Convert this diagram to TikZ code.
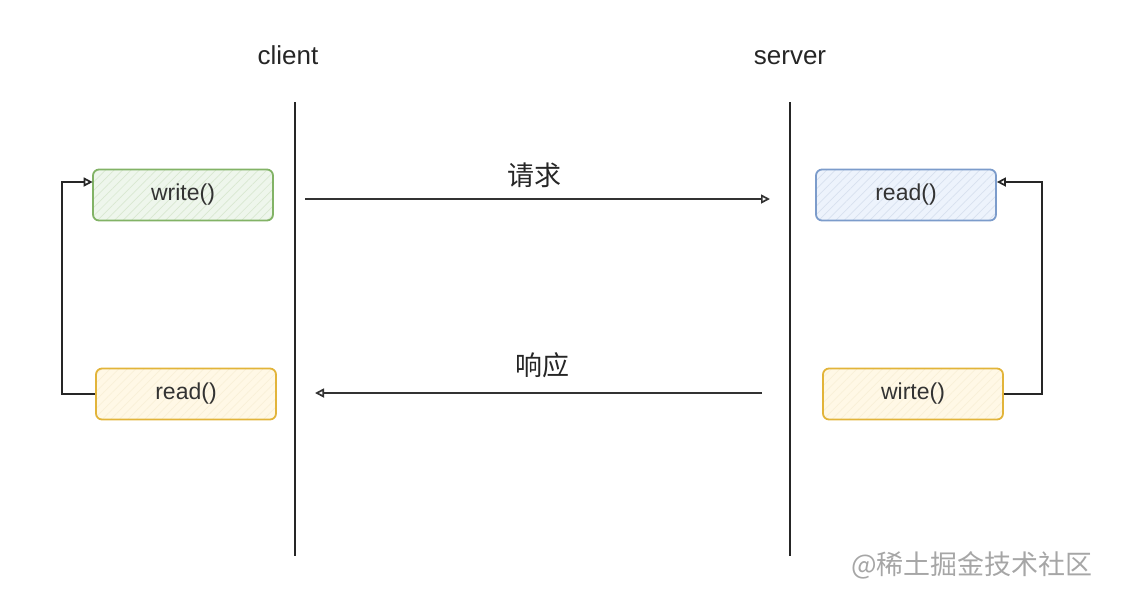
\documentclass[tikz,border=0pt]{standalone}
\usepackage{fontspec}
\setmainfont{Liberation Sans}
\newfontfamily\cjk{Noto Sans CJK SC}
\usepackage{xcolor}
\usetikzlibrary{positioning, arrows.meta, patterns.meta}
\definecolor{grnline}{HTML}{82B366}
\definecolor{grnfill}{HTML}{EEF6EC}
\definecolor{bluline}{HTML}{7C9CCB}
\definecolor{blufill}{HTML}{EDF3FC}
\definecolor{ylwline}{HTML}{E2B43A}
\definecolor{ylwfill}{HTML}{FFF8E6}

\begin{document}
\begin{tikzpicture}[
        x=1pt, y=-1pt,
        >={Triangle[open, length=9pt, width=9pt]},
        lifeline/.style={line width=2pt, draw=black!85},
        msg/.style={->, line width=1.7pt, draw=black!80},
        loop/.style={->, line width=1.7pt, draw=black!85},
        func/.style={rectangle, rounded corners=6pt, line width=1.8pt,
            minimum width=180pt, minimum height=51pt,
            font=\fontsize{23}{27}\selectfont, text=black!80},
        grnbox/.style={func, draw=grnline, preaction={fill=grnfill},
            pattern={Lines[angle=45, distance=6pt, line width=0.7pt]}, pattern color=grnline!30},
        blubox/.style={func, draw=bluline, preaction={fill=blufill},
            pattern={Lines[angle=45, distance=6pt, line width=0.7pt]}, pattern color=bluline!30},
        ylwbox/.style={func, draw=ylwline, preaction={fill=ylwfill},
            pattern={Lines[angle=45, distance=6pt, line width=0.7pt]}, pattern color=ylwline!20},
        title/.style={font=\fontsize{26}{30}\selectfont, text=black!85, anchor=base}
    ]
        \useasboundingbox (0,0) rectangle (1145,598);

        % lifelines
        \node[title] (client) at (288, 64) {client};
        \node[title] (server) at (790, 64) {server};
        \coordinate (ctop) at (295, 102);
        \coordinate (cbot) at (295, 556);
        \coordinate (stop) at (790, 102);
        \coordinate (sbot) at (790, 556);
        \draw[lifeline] (ctop) -- (cbot);
        \draw[lifeline] (stop) -- (sbot);

        % client side
        \node[grnbox] (cwrite) at (183, 195) {write()};
        \node[ylwbox] (cread)  at (186, 394) {read()};

        % server side
        \node[blubox] (sread)  at (906, 195) {read()};
        \node[ylwbox] (swrite) at (913, 394) {wirte()};

        % messages
        \coordinate (reqa) at (305, 199);
        \coordinate (reqb) at (770, 199);
        \coordinate (resa) at (762, 393);
        \coordinate (resb) at (315, 393);
        \draw[msg] (reqa) -- (reqb);
        \draw[msg] (resa) -- (resb);
        \node[font=\cjk\fontsize{27}{31}\selectfont, text=black!85] (req) at (534, 175) {请求};
        \node[font=\cjk\fontsize{27}{31}\selectfont, text=black!85] (res) at (542, 365) {响应};

        % loops
        \draw[loop] (cread.west) -- ++(-33, 0) |- ([yshift=13pt]cwrite.west);
        \draw[loop] (swrite.east) -- ++(38, 0) |- ([yshift=13pt]sread.east);

        \node[font=\cjk\fontsize{27}{31}\selectfont, text=black!35] (mark) at (972, 565) {@稀土掘金技术社区};
    \end{tikzpicture}
\end{document}
